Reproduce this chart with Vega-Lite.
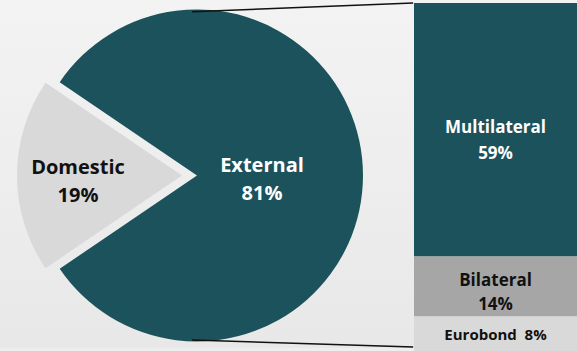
{
  "$schema": "https://vega.github.io/schema/vega-lite/v6.json",
  "width": 577,
  "height": 351,
  "autosize": {"type": "fit", "contains": "padding"},
  "padding": 0,
  "background": "#eeeeee",
  "config": {
    "view": {"stroke": null, "fill": {"gradient": "linear", "x1": 0, "y1": 0, "x2": 0, "y2": 1, "stops": [{"offset": 0, "color": "#f3f3f3"}, {"offset": 1, "color": "#e8e8e8"}]}},
    "font": "Open Sans"
  },
  "datasets": {
    "pie": [
      {"segment": "External", "share": 81},
      {"segment": "Domestic", "share": 19}
    ],
    "bar": [
      {"source": "Multilateral", "share": 59, "label": "Multilateral\n59%"},
      {"source": "Bilateral", "share": 14, "label": "Bilateral\n14%"},
      {"source": "Eurobond", "share": 8, "label": "Eurobond\u00a0 8%"}
    ]
  },
  "layer": [
    {
      "data": {"name": "pie"},
      "transform": [
        {"stack": "share", "sort": [{"field": "share", "order": "descending"}], "as": ["t0", "t1"], "groupby": []},
        {"filter": "datum.segment === 'External'"}
      ],
      "mark": {"type": "arc", "radius": 166, "color": "#1b525b"},
      "encoding": {
        "theta": {"field": "t0", "type": "quantitative", "scale": {"domain": [0, 100], "range": [-0.97389, 5.3093]}},
        "theta2": {"field": "t1"},
        "x": {"datum": 34.14, "type": "quantitative", "scale": {"domain": [0, 100], "nice": false, "zero": false}, "axis": null},
        "y": {"datum": 40.85, "type": "quantitative", "scale": {"domain": [0.69, 81.69], "nice": false, "zero": false}, "axis": null}
      }
    },
    {
      "data": {"name": "pie"},
      "transform": [
        {"stack": "share", "sort": [{"field": "share", "order": "descending"}], "as": ["t0", "t1"], "groupby": []},
        {"filter": "datum.segment === 'Domestic'"}
      ],
      "mark": {"type": "arc", "radius": 165, "color": "#d9d9d9"},
      "encoding": {
        "theta": {"field": "t0", "type": "quantitative", "scale": {"domain": [0, 100], "range": [-0.97389, 5.3093]}},
        "theta2": {"field": "t1"},
        "x": {"datum": 31.54, "type": "quantitative"},
        "y": {"datum": 40.85, "type": "quantitative"}
      }
    },
    {
      "data": {"name": "pie"},
      "transform": [
        {"stack": "share", "sort": [{"field": "share", "order": "descending"}], "as": ["t0", "t1"], "groupby": []},
        {"filter": "datum.segment === 'External'"},
        {"calculate": "(datum.t0 + datum.t1) / 2", "as": "tm"},
        {"calculate": "datum.segment + '\\n' + datum.share + '%'", "as": "label"}
      ],
      "mark": {"type": "text", "radius": 65, "dy": -9, "fontSize": 20, "fontWeight": "bold", "lineHeight": 28, "lineBreak": "\n", "color": "white", "baseline": "middle", "align": "center"},
      "encoding": {
        "theta": {"field": "tm", "type": "quantitative"},
        "x": {"datum": 34.14, "type": "quantitative"},
        "y": {"datum": 40.85, "type": "quantitative"},
        "text": {"field": "label"}
      }
    },
    {
      "data": {"name": "pie"},
      "transform": [
        {"stack": "share", "sort": [{"field": "share", "order": "descending"}], "as": ["t0", "t1"], "groupby": []},
        {"filter": "datum.segment === 'Domestic'"},
        {"calculate": "(datum.t0 + datum.t1) / 2", "as": "tm"},
        {"calculate": "datum.segment + '\\n' + datum.share + '%'", "as": "label"}
      ],
      "mark": {"type": "text", "radius": 104, "dy": -7, "fontSize": 20, "fontWeight": "bold", "lineHeight": 28, "lineBreak": "\n", "color": "#111111", "baseline": "middle", "align": "center"},
      "encoding": {
        "theta": {"field": "tm", "type": "quantitative"},
        "x": {"datum": 31.54, "type": "quantitative"},
        "y": {"datum": 40.85, "type": "quantitative"},
        "text": {"field": "label"}
      }
    },
    {
      "data": {"name": "bar"},
      "transform": [
        {"stack": "share", "sort": [{"field": "share", "order": "ascending"}], "as": ["s0", "s1"], "groupby": []}
      ],
      "mark": {"type": "rect"},
      "encoding": {
        "x": {"datum": 71.75, "type": "quantitative"},
        "x2": {"datum": 100},
        "y": {"field": "s0", "type": "quantitative"},
        "y2": {"field": "s1"},
        "color": {"field": "source", "type": "nominal", "scale": {"domain": ["Multilateral", "Bilateral", "Eurobond"], "range": ["#1b525b", "#a6a6a6", "#d9d9d9"]}, "legend": null}
      }
    },
    {
      "data": {"name": "bar"},
      "transform": [
        {"stack": "share", "sort": [{"field": "share", "order": "ascending"}], "as": ["s0", "s1"], "groupby": []},
        {"calculate": "(datum.s0 + datum.s1) / 2", "as": "mid"},
        {"filter": "datum.source === 'Multilateral'"}
      ],
      "mark": {"type": "text", "dy": -2, "fontSize": 17, "fontWeight": "bold", "lineHeight": 26, "lineBreak": "\n", "baseline": "middle", "align": "center", "color": "white"},
      "encoding": {
        "x": {"datum": 85.88, "type": "quantitative"},
        "y": {"field": "mid", "type": "quantitative"},
        "text": {"field": "label"}
      }
    },
    {
      "data": {"name": "bar"},
      "transform": [
        {"stack": "share", "sort": [{"field": "share", "order": "ascending"}], "as": ["s0", "s1"], "groupby": []},
        {"calculate": "(datum.s0 + datum.s1) / 2", "as": "mid"},
        {"filter": "datum.source === 'Bilateral'"}
      ],
      "mark": {"type": "text", "dy": -6, "fontSize": 17, "fontWeight": "bold", "lineHeight": 24, "lineBreak": "\n", "baseline": "middle", "align": "center", "color": "#111111"},
      "encoding": {
        "x": {"datum": 85.88, "type": "quantitative"},
        "y": {"field": "mid", "type": "quantitative"},
        "text": {"field": "label"}
      }
    },
    {
      "data": {"name": "bar"},
      "transform": [
        {"stack": "share", "sort": [{"field": "share", "order": "ascending"}], "as": ["s0", "s1"], "groupby": []},
        {"calculate": "(datum.s0 + datum.s1) / 2", "as": "mid"},
        {"filter": "datum.source === 'Eurobond'"}
      ],
      "mark": {"type": "text", "dy": 1, "fontSize": 15, "fontWeight": "bold", "baseline": "middle", "align": "center", "color": "#111111"},
      "encoding": {
        "x": {"datum": 85.88, "type": "quantitative"},
        "y": {"field": "mid", "type": "quantitative"},
        "text": {"field": "label"}
      }
    },
    {
      "data": {"values": [{}]},
      "mark": {"type": "rule", "color": "#111111", "strokeWidth": 1.5},
      "encoding": {
        "x": {"datum": 33.28, "type": "quantitative"},
        "y": {"datum": 78.93, "type": "quantitative"},
        "x2": {"datum": 71.6},
        "y2": {"datum": 81.0}
      }
    },
    {
      "data": {"values": [{}]},
      "mark": {"type": "rule", "color": "#111111", "strokeWidth": 1.5},
      "encoding": {
        "x": {"datum": 33.28, "type": "quantitative"},
        "y": {"datum": 2.54, "type": "quantitative"},
        "x2": {"datum": 71.6},
        "y2": {"datum": 0.92}
      }
    }
  ]
}
